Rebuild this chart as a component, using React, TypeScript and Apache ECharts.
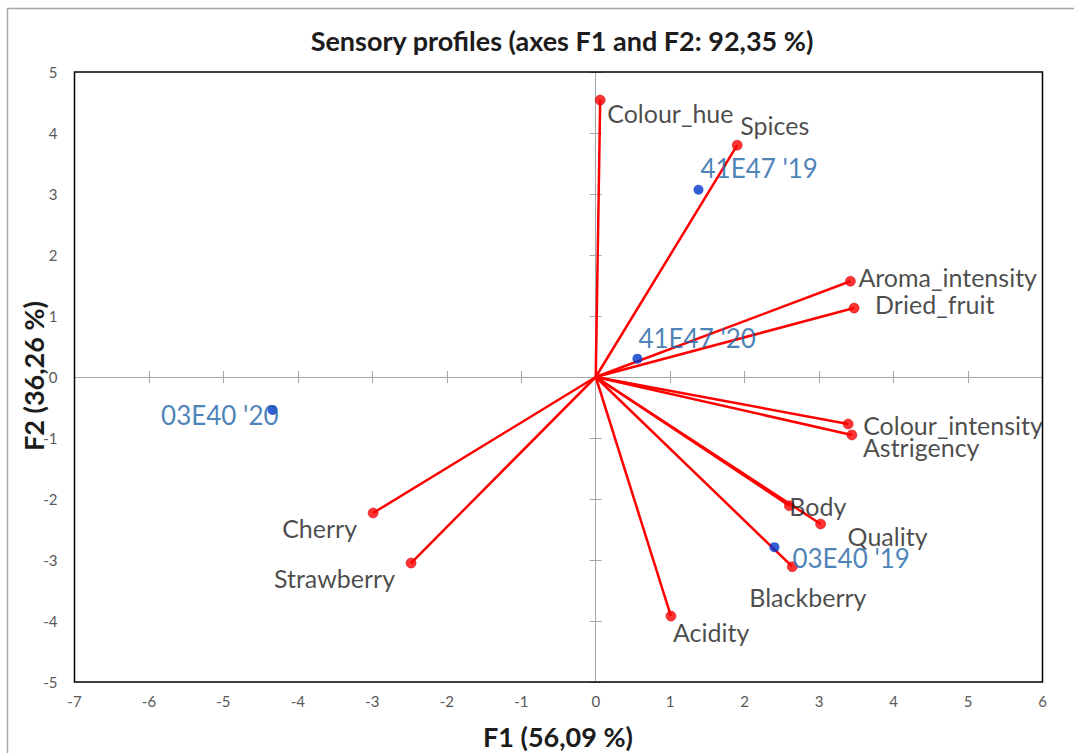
import React, { useEffect, useRef } from "react";
import * as echarts from "echarts";

const titleText = "Sensory profiles (axes F1 and F2: 92,35 %)";
const xAxisTitle = "F1 (56,09 %)";
const yAxisTitle = "F2 (36,26 %)";

const xMin = -7;
const xMax = 6;
const yMin = -5;
const yMax = 5;

const variableNames = [
  "Colour_hue",
  "Spices",
  "Aroma_intensity",
  "Dried_fruit",
  "Colour_intensity",
  "Astrigency",
  "Body",
  "Quality",
  "Blackberry",
  "Acidity",
  "Cherry",
  "Strawberry",
];
const variableF1 = [0.06, 1.9, 3.42, 3.47, 3.39, 3.44, 2.6, 3.02, 2.64, 1.01, -2.99, -2.48];
const variableF2 = [4.54, 3.8, 1.57, 1.13, -0.77, -0.95, -2.11, -2.41, -3.11, -3.92, -2.23, -3.05];

const observationNames = ["41E47 '19", "41E47 '20", "03E40 '20", "03E40 '19"];
const observationF1 = [1.38, 0.56, -4.34, 2.4];
const observationF2 = [3.07, 0.3, -0.54, -2.79];

// label placement (style only): [dx, dy, align]
const labelPlacement: Record<string, [number, number, string]> = {
  Colour_hue: [7, 13, "left"],
  Spices: [3, -20, "left"],
  Aroma_intensity: [8, -4, "left"],
  Dried_fruit: [21, -4, "left"],
  Colour_intensity: [15, 1, "left"],
  Astrigency: [11, 12, "left"],
  Body: [0, 0, "left"],
  Quality: [27, 12, "left"],
  Blackberry: [-43, 30, "left"],
  Acidity: [2, 16, "left"],
  Cherry: [-16, 15, "right"],
  Strawberry: [-16, 15, "right"],
  "41E47 '19": [2, -22, "left"],
  "41E47 '20": [1, -21, "left"],
  "03E40 '20": [6, 5, "right"],
  "03E40 '19": [18, 11, "left"],
};

const FONT = "Lato, 'Open Sans', sans-serif";

export default function App() {
  const ref = useRef<HTMLDivElement>(null);
  useEffect(() => {
    if (!ref.current) return;
    const chart = echarts.init(ref.current, undefined, { renderer: "svg" });

    const lineSeries = variableNames.map((n, i) => ({
      type: "line",
      name: n,
      data: [
        [0, 0],
        [variableF1[i], variableF2[i]],
      ],
      showSymbol: false,
      symbol: "none",
      lineStyle: { color: "#FF0000", width: 2.5 },
      z: 3,
      silent: true,
    }));

    const mkLabel = (name: string, color: string, size: number) => {
      const p = labelPlacement[name];
      return {
        show: true,
        position: "inside",
        formatter: "{b}",
        align: p[2],
        verticalAlign: "middle",
        offset: [p[0], p[1]],
        color,
        fontSize: size,
        fontFamily: FONT,
      };
    };

    const baseX = {
      min: xMin,
      max: xMax,
      interval: 1,
      type: "value",
      splitLine: { show: false },
    };
    const baseY = {
      min: yMin,
      max: yMax,
      interval: 1,
      type: "value",
      splitLine: { show: false },
    };

    const option = {
      animation: false,
      backgroundColor: "#ffffff",
      grid: {
        left: 74.5,
        right: 31.5,
        top: 72,
        bottom: 71,
        show: true,
        borderColor: "#000000",
        borderWidth: 1.5,
        backgroundColor: "transparent",
        z: 10,
      },
      xAxis: [
        {
          ...baseX,
          position: "bottom",
          axisLine: { show: false, onZero: false },
          axisTick: { show: false },
          axisLabel: { color: "#595959", fontSize: 15, fontFamily: FONT, margin: 11 },
        },
        {
          ...baseX,
          position: "bottom",
          axisLine: { show: true, onZero: true, onZeroAxisIndex: 0, lineStyle: { color: "#A6A6A6", width: 1 } },
          axisTick: { show: true, length: 6, inside: false, lineStyle: { color: "#A6A6A6" } },
          axisLabel: { show: false },
        },
        {
          ...baseX,
          position: "bottom",
          axisLine: { show: false, onZero: true, onZeroAxisIndex: 0 },
          axisTick: { show: true, length: 6, inside: true, lineStyle: { color: "#A6A6A6" } },
          axisLabel: { show: false },
        },
      ],
      yAxis: [
        {
          ...baseY,
          position: "left",
          axisLine: { show: false, onZero: false },
          axisTick: { show: false },
          axisLabel: { color: "#595959", fontSize: 15, fontFamily: FONT, margin: 17 },
        },
        {
          ...baseY,
          position: "left",
          axisLine: { show: true, onZero: true, onZeroAxisIndex: 0, lineStyle: { color: "#A6A6A6", width: 1 } },
          axisTick: { show: true, length: 6, inside: false, lineStyle: { color: "#A6A6A6" } },
          axisLabel: { show: false },
        },
        {
          ...baseY,
          position: "left",
          axisLine: { show: false, onZero: true, onZeroAxisIndex: 0 },
          axisTick: { show: true, length: 6, inside: true, lineStyle: { color: "#A6A6A6" } },
          axisLabel: { show: false },
        },
      ],
      series: [
        ...lineSeries,
        {
          type: "scatter",
          name: "Variables",
          symbolSize: 10,
          itemStyle: { color: "#FF0000", borderColor: "#C00000", borderWidth: 0.6 },
          z: 4,
          data: variableNames.map((n, i) => ({
            name: n,
            value: [variableF1[i], variableF2[i]],
            label: mkLabel(n, "#1c1c1c", 25),
          })),
        },
        {
          type: "scatter",
          name: "Observations",
          symbolSize: 10,
          itemStyle: { color: "#0036CC" },
          z: 5,
          data: observationNames.map((n, i) => ({
            name: n,
            value: [observationF1[i], observationF2[i]],
            label: mkLabel(n, "#1D63A6", 26),
          })),
        },
      ],
      graphic: [
        {
          type: "rect",
          shape: { x: 7.5, y: 8.5, width: 1200, height: 900 },
          style: { fill: "none", stroke: "#A6A6A6", lineWidth: 1.5 },
          silent: true,
          z: -1,
        },
        {
          type: "text",
          x: 562,
          y: 40,
          style: {
            text: titleText,
            fontSize: 27,
            fontWeight: "bold",
            fontFamily: FONT,
            fill: "#1c1c1c",
            textAlign: "center",
            textVerticalAlign: "middle",
          },
        },
        {
          type: "text",
          x: 558,
          y: 736,
          style: {
            text: xAxisTitle,
            fontSize: 27,
            fontWeight: "bold",
            fontFamily: FONT,
            fill: "#1c1c1c",
            textAlign: "center",
            textVerticalAlign: "middle",
          },
        },
        {
          type: "text",
          x: 33,
          y: 376,
          rotation: Math.PI / 2,
          style: {
            text: yAxisTitle,
            fontSize: 27,
            fontWeight: "bold",
            fontFamily: FONT,
            fill: "#1c1c1c",
            textAlign: "center",
            textVerticalAlign: "middle",
          },
        },
      ],
    };

    chart.setOption(option as any);
    return () => chart.dispose();
  }, []);

  return (
    <div
      ref={ref}
      style={{ position: "fixed", left: 0, top: 0, width: 1074, height: 753, background: "#fff" }}
    />
  );
}
